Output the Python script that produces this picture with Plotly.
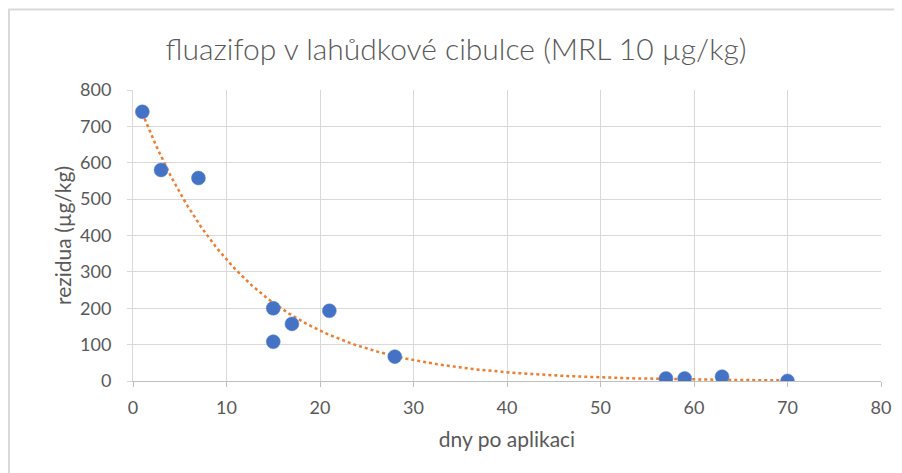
import numpy as np
import plotly.graph_objects as go

days = [1, 3, 7, 15, 15, 17, 21, 28, 57, 59, 63, 70]
residues = [740, 580, 558, 200, 108, 157, 193, 67, 7, 7, 12, 0.3]
title_text = "fluazifop v lahůdkové cibulce (MRL 10 µg/kg)"
x_title = "dny po aplikaci"
y_title = "rezidua (µg/kg)"

# exponential trendline (Excel-style: least squares on ln y)
xd = np.array(days, dtype=float)
yd = np.array(residues, dtype=float)
b, ln_a = np.polyfit(xd, np.log(yd), 1)
xt = np.linspace(xd.min(), xd.max(), 300)
yt = np.exp(ln_a) * np.exp(b * xt)

# page body has an 8px margin, so the figure is 8px smaller than the window
W, H = 894, 465
ml, mr, mt, mb = 125, 21, 82, 92

fig = go.Figure()
fig.add_trace(go.Scatter(x=xt, y=yt, mode="lines",
                         line=dict(color="#ED7D31", width=2.5, dash="dot"),
                         hoverinfo="skip", showlegend=False))
fig.add_trace(go.Scatter(x=days, y=residues, mode="markers",
                         marker=dict(color="#4472C4", size=14,
                                     line=dict(color="#5B82CC", width=0.5)),
                         showlegend=False))

font_fam = "Lato, 'Open Sans', sans-serif"
axis_common = dict(showgrid=True, gridcolor="#D9D9D9", gridwidth=1,
                   showline=True, linecolor="#D9D9D9", linewidth=1,
                   ticks="outside", ticklen=5, tickcolor="#D9D9D9",
                   tickfont=dict(family=font_fam, size=18, color="#595959"),
                   zeroline=False)

fig.update_layout(
    width=W, height=H,
    margin=dict(l=ml, r=mr, t=mt, b=mb),
    paper_bgcolor="white", plot_bgcolor="white",
    title=dict(text=title_text, x=448 / W, xanchor="center",
               y=1 - 41 / H, yanchor="middle",
               font=dict(family=font_fam, size=30, weight=300, color="#595959")),
    xaxis=dict(range=[0, 80], dtick=10, tick0=0, ticklabelstandoff=5,
               title=dict(text=x_title, standoff=15,
                          font=dict(family=font_fam, size=21, color="#595959")),
               **axis_common),
    yaxis=dict(range=[0, 800], dtick=100, tick0=0, ticklabelstandoff=12,
               title=dict(text=y_title, standoff=2,
                          font=dict(family=font_fam, size=21, color="#595959")),
               **axis_common),
)
fig.update_xaxes(linecolor="#BFBFBF", tickcolor="#BFBFBF")

pw = W - ml - mr
ph = H - mt - mb
def px_x(p):
    return (p - ml) / pw
def px_y(p):
    return 1 - (p - mt) / ph

# outer chart frame (top and left edges visible)
fig.add_shape(type="line", xref="paper", yref="paper",
              x0=px_x(0), x1=px_x(W), y0=px_y(1.5), y1=px_y(1.5),
              line=dict(color="#D9D9D9", width=2))
fig.add_shape(type="line", xref="paper", yref="paper",
              x0=px_x(1), x1=px_x(1), y0=px_y(1.5), y1=px_y(H),
              line=dict(color="#D9D9D9", width=2))

fig.write_html("out.html")
